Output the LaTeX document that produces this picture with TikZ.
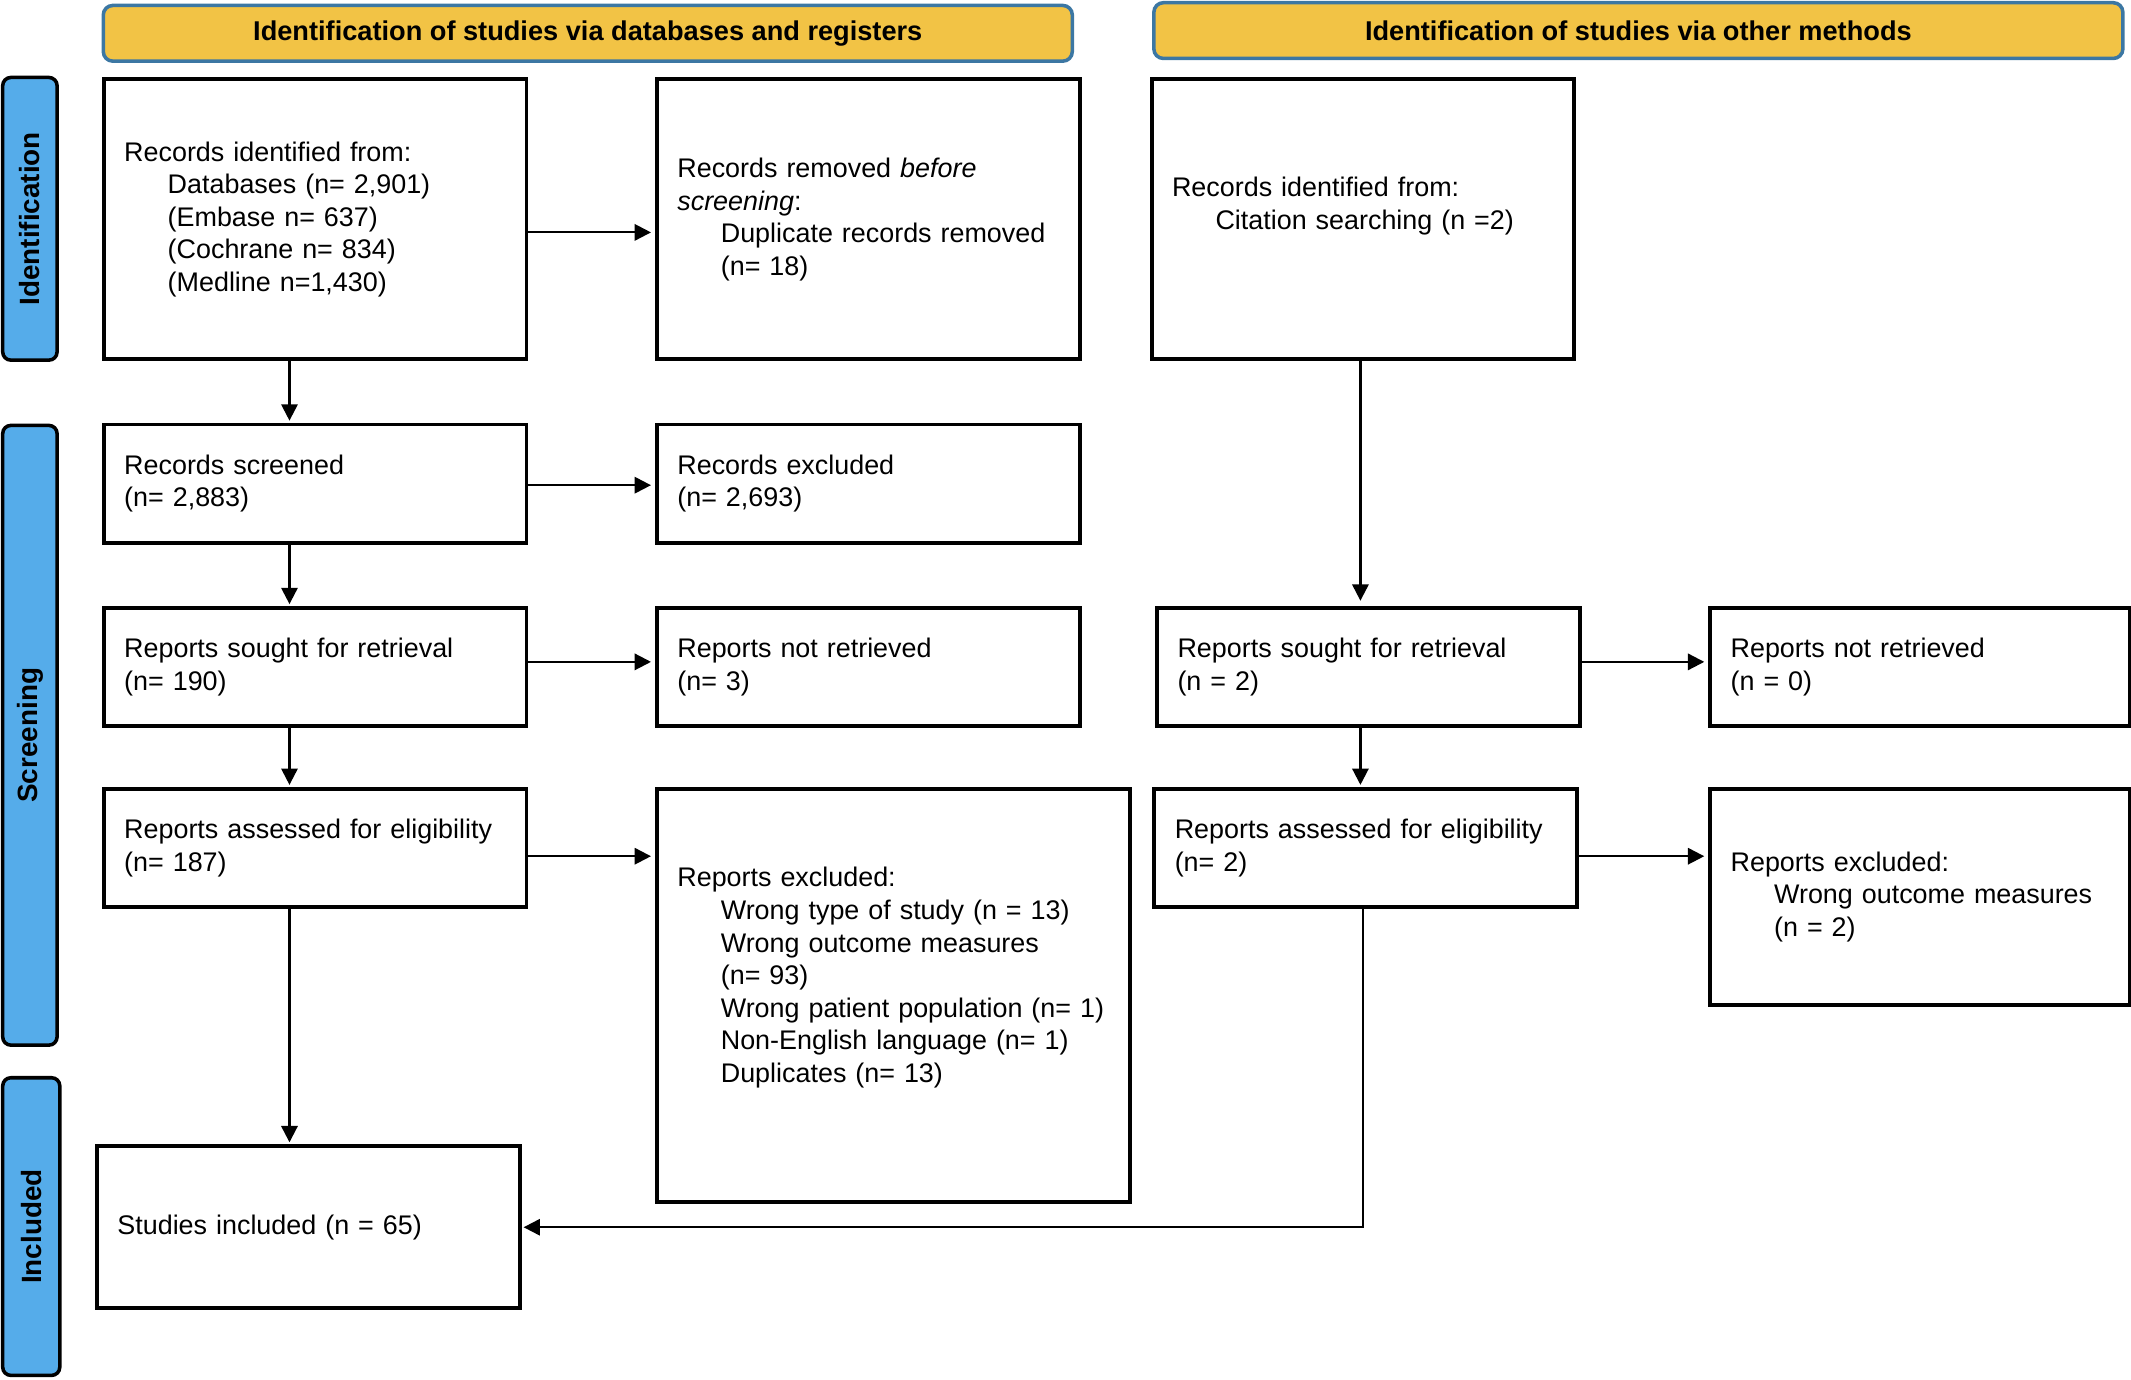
\documentclass[tikz,border=0pt]{standalone}
\usepackage{fontspec}
\setmainfont{Liberation Sans}
\usetikzlibrary{arrows.meta}
\definecolor{hdrfill}{HTML}{F2C345}
\definecolor{hdrline}{HTML}{3C77A3}
\definecolor{barfill}{HTML}{55ACEA}
\newcommand{\fs}{\fontsize{19.8}{24}\selectfont}
\newcommand{\hs}{\fontsize{20}{23}\selectfont\bfseries}
\newcommand{\bs}{\fontsize{20.5}{23}\selectfont\bfseries}
\newcommand{\ind}{\hspace*{32pt}}
\begin{document}
\begin{tikzpicture}[x=1pt,y=-1pt,
 box/.style 2 args={draw, line width=2.8pt, anchor=north west, align=left, inner xsep=15pt, inner ysep=0pt, text width=#1, minimum height=#2, font=\fs},
 hdr/.style={draw=hdrline, fill=hdrfill, line width=2.6pt, rounded corners=7pt, minimum width=713pt, minimum height=41pt, font=\hs, inner sep=0pt},
 bar/.style={draw=black, fill=barfill, line width=2.6pt, rounded corners=6pt, rotate=90, minimum height=40pt, font=\bs, inner sep=0pt},
 arr/.style={line width=1.6pt, -{Triangle[length=12pt,width=12pt]}}]
\useasboundingbox (0,0) rectangle (1568,1015);

% headers
\node[hdr] (h1) at (432.5,24.5) {Identification of studies via databases and registers};
\node[hdr] (h2) at (1205.5,22.5) {Identification of studies via other methods};

% side bars
\node[bar, minimum width=208pt] (idbar) at (22,161) {Identification};
\node[bar, minimum width=456pt] (scbar) at (22,541) {Screening};
\node[bar, minimum width=219pt, minimum height=42pt] (inbar) at (23,902.5) {Included};

% boxes
\node[box={281pt}{206pt}] (A) at (75,57) {Records identified from:\\\ind Databases (n= 2,901)\\\ind (Embase n= 637)\\\ind (Cochrane n= 834)\\\ind (Medline n=1,430)};
\node[box={281pt}{206pt}] (B) at (482,57) {Records removed \textit{before}\\\textit{screening}:\\\ind Duplicate records removed\\\ind (n= 18)};
\node[box={281pt}{206pt}] (C) at (846,57) {Records identified from:\\\ind Citation searching (n =2)\\\mbox{}};
\node[box={281pt}{87pt}] (D) at (75,311) {Records screened\\(n= 2,883)};
\node[box={281pt}{87pt}] (E) at (482,311) {Records excluded\\(n= 2,693)};
\node[box={281pt}{87pt}] (F) at (75,446) {Reports sought for retrieval\\(n= 190)};
\node[box={281pt}{87pt}] (G) at (482,446) {Reports not retrieved\\(n= 3)};
\node[box={281pt}{87pt}] (H) at (850,446) {Reports sought for retrieval\\(n = 2)};
\node[box={279pt}{87pt}] (I) at (1257,446) {Reports not retrieved\\(n = 0)};
\node[box={281pt}{87pt}] (J) at (75,579) {Reports assessed for eligibility\\(n= 187)};
\node[box={318pt}{304pt}] (K) at (482,579) {Reports excluded:\\\ind Wrong type of study (n = 13)\\\ind Wrong outcome measures\\\ind (n= 93)\\\ind Wrong patient population (n= 1)\\\ind Non-English language (n= 1)\\\ind Duplicates (n= 13)\\[6pt]\mbox{}};
\node[box={281pt}{87pt}] (L) at (848,579) {Reports assessed for eligibility\\(n= 2)};
\node[box={279pt}{159pt}] (M) at (1257,579) {Reports excluded:\\\ind Wrong outcome measures\\\ind (n = 2)};
\node[box={281pt}{119pt}] (N) at (70,842) {Studies included (n = 65)};

% helper coordinates
\coordinate (cL) at (213,0);
\coordinate (cR) at (1001,0);
\coordinate (cR2) at (1003,0);
\coordinate (r1) at (0,171);
\coordinate (r2) at (0,357);
\coordinate (r3) at (0,487);
\coordinate (r4) at (0,630);
\coordinate (r5) at (0,903);

% connectors
\draw[arr, shorten >=3pt] (A.east |- r1) -- (B.west |- r1);
\draw[arr, shorten >=3pt] (D.east |- r2) -- (E.west |- r2);
\draw[arr, shorten >=3pt] (F.east |- r3) -- (G.west |- r3);
\draw[arr, shorten >=3pt] (J.east |- r4) -- (K.west |- r4);
\draw[arr, shorten >=3pt] (H.east |- r3) -- (I.west |- r3);
\draw[arr, shorten >=3pt] (L.east |- r4) -- (M.west |- r4);
\draw[arr, shorten >=1.5pt] (A.south -| cL) -- (D.north -| cL);
\draw[arr, shorten >=1.5pt] (D.south -| cL) -- (F.north -| cL);
\draw[arr, shorten >=1.5pt] (F.south -| cL) -- (J.north -| cL);
\draw[arr, shorten >=1.5pt] (J.south -| cL) -- (N.north -| cL);
\draw[arr, shorten >=4pt] (C.south -| cR) -- (H.north -| cR);
\draw[arr, shorten >=1.5pt] (H.south -| cR) -- (L.north -| cR);
\draw[arr, shorten >=1.5pt] (L.south -| cR2) |- (N.east |- r5);
\end{tikzpicture}
\end{document}
